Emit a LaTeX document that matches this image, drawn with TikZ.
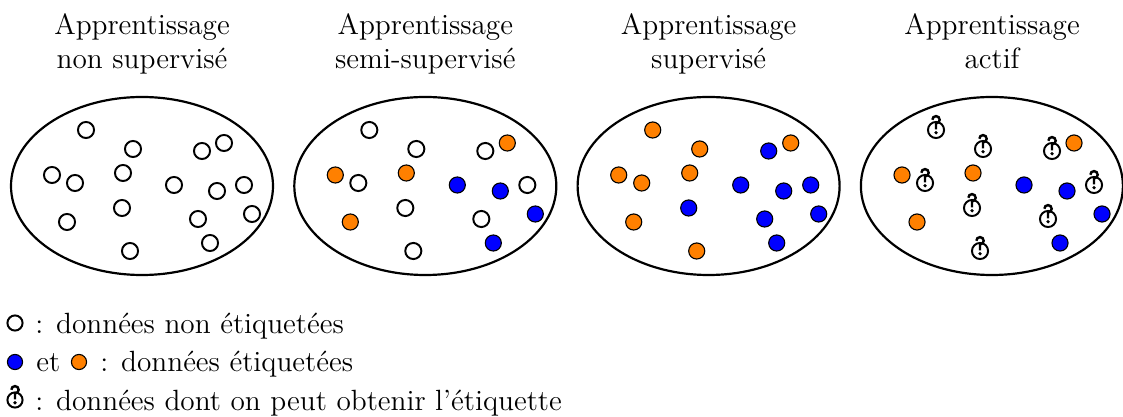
\documentclass[tikz,border=0pt]{standalone}

\definecolor{bleuet}{RGB}{0,0,255}
\definecolor{orangeet}{RGB}{255,128,0}

\tikzset{
  titre/.style={align=center, font=\large, inner sep=0pt, anchor=north},
  ens/.style={black, line width=0.9pt},
  pt/.style={circle, draw=black, line width=0.8pt, fill=white, inner sep=0pt, minimum size=6.6pt},
  nonet/.style={pt},
  bleu/.style={pt, fill=bleuet, line width=0.45pt},
  oran/.style={pt, fill=orangeet, line width=0.45pt},
  quest/.style={pt},
  leg/.style={minimum size=6.2pt},
  legtxt/.style={font=\large, inner sep=0pt, anchor=base west},
  qmark/.pic={
    \draw[line width=1pt] (-1.5pt,4.2pt) arc[start angle=180, end angle=-90, radius=1.5pt] -- (0,0.3pt);
    \fill (0,-1.1pt) circle[radius=0.75pt];
  }
}

\begin{document}
\begin{tikzpicture}[x=0.41pt,y=-0.41pt]
  \useasboundingbox (0,0) rectangle (1123,417);

  % titres
  \node[titre] (t1) at (142,13) {Apprentissage\\non supervisé};
  \node[titre] (t2) at (425.3,13) {Apprentissage\\semi-supervisé};
  \node[titre] (t3) at (708.7,13) {Apprentissage\\supervisé};
  \node[titre] (t4) at (992,13) {Apprentissage\\actif};

  % ensembles de donnees
  \foreach \k in {0,...,3}
    \draw[ens] (142+283.3*\k,186) ellipse (131 and 89);

  % points : position, puis style dans chaque ensemble
  \foreach \i/\x/\y/\sa/\sb/\sc/\sd in {
      1/86/130/nonet/nonet/oran/quest,
      2/133/149/nonet/nonet/oran/quest,
      3/52/175/nonet/oran/oran/oran,
      4/75/183/nonet/nonet/oran/quest,
      5/123/173/nonet/oran/oran/oran,
      6/174/185/nonet/bleu/bleu/bleu,
      7/202/151/nonet/nonet/bleu/quest,
      8/224/143/nonet/oran/oran/oran,
      9/217/191/nonet/bleu/bleu/bleu,
      10/244/185/nonet/nonet/bleu/quest,
      11/122/208/nonet/nonet/bleu/quest,
      12/67/222/nonet/oran/oran/oran,
      13/198/219/nonet/nonet/bleu/quest,
      14/252/214/nonet/bleu/bleu/bleu,
      15/130/251/nonet/nonet/oran/quest,
      16/210/243/nonet/bleu/bleu/bleu} {
    \node[\sa] (a\i) at (\x,\y) {};
    \node[\sb] (b\i) at (\x+283.3,\y) {};
    \node[\sc] (c\i) at (\x+566.7,\y) {};
    \node[\sd] (d\i) at (\x+850,\y) {};
  }

  % legende
  \node[nonet,leg] (l1) at (15,323) {};
  \node[legtxt] (l1t) at (35,333) {: données non étiquetées};
  \node[bleu,leg] (l2a) at (15,362) {};
  \node[legtxt] (l2et) at (36,372) {et};
  \node[oran,leg] (l2b) at (79,362) {};
  \node[legtxt] (l2t) at (100,372) {: données étiquetées};
  \node[quest,leg] (l3) at (15,400) {};
  \node[legtxt] (l3t) at (35,410) {: données dont on peut obtenir l'étiquette};

  % points d'interrogation
  \foreach \n in {d1,d2,d4,d7,d10,d11,d13,d15,l3}
    \pic at (\n) {qmark};
\end{tikzpicture}
\end{document}
